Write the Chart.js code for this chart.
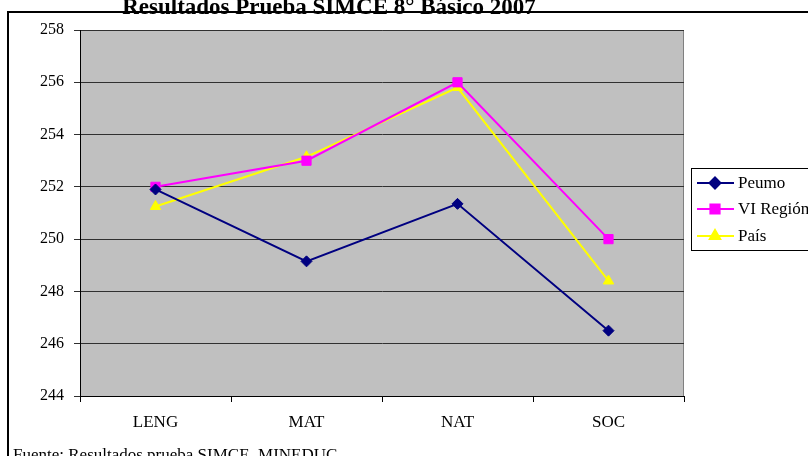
<!DOCTYPE html>
<html>
<head>
<meta charset="utf-8">
<script src="https://cdn.jsdelivr.net/npm/chart.js@4/dist/chart.umd.min.js"></script>
<style>
  html, body { margin: 0; padding: 0; background: #fff; }
  #wrap { position: relative; width: 808px; height: 456px; }
</style>
</head>
<body>
<div id="wrap"><canvas id="c" width="808" height="456"></canvas></div>
<script>
const categories = ['LENG', 'MAT', 'NAT', 'SOC'];
const peumo = [251.9, 249.15, 251.35, 246.5];
const viRegion = [252, 253, 256, 250];
const pais = [251.25, 253.15, 255.8, 248.4];
const seriesNames = ['Peumo', 'VI Región', 'País'];
const titleText = 'Resultados Prueba SIMCE 8° Básico 2007';
const footerText = 'Fuente: Resultados prueba SIMCE, MINEDUC';
const yMin = 244, yMax = 258, yStep = 2;

const FONT = "'Liberation Serif', 'Times New Roman', serif";

const decorPlugin = {
  id: 'decor',
  beforeDraw(chart) {
    const ctx = chart.ctx;
    const a = chart.chartArea;
    ctx.save();
    ctx.fillStyle = '#fff';
    ctx.fillRect(0, 0, chart.width, chart.height);
    // outer frame
    ctx.strokeStyle = '#000';
    ctx.lineWidth = 2;
    ctx.beginPath();
    ctx.moveTo(8, 470);
    ctx.lineTo(8, 12);
    ctx.lineTo(820, 12);
    ctx.stroke();
    // plot background
    ctx.fillStyle = '#C0C0C0';
    ctx.fillRect(a.left, a.top, a.right - a.left, a.bottom - a.top);
    // plot border (gray)
    ctx.strokeStyle = '#808080';
    ctx.lineWidth = 1;
    ctx.strokeRect(a.left + 0.5, a.top + 0.5, a.right - a.left - 1, a.bottom - a.top);
    ctx.restore();
  },
  afterDraw(chart) {
    const ctx = chart.ctx;
    ctx.save();
    // title
    ctx.fillStyle = '#000';
    ctx.font = 'bold 23px ' + FONT;
    ctx.textAlign = 'center';
    ctx.textBaseline = 'alphabetic';
    ctx.fillText(titleText, 329, 14);
    // footer
    ctx.font = '17px ' + FONT;
    ctx.textAlign = 'left';
    ctx.fillText(footerText, 13, 460);
    // legend
    const lx = 691, ly = 168, lw = 130, lh = 82;
    ctx.fillStyle = '#fff';
    ctx.fillRect(lx, ly, lw, lh);
    ctx.strokeStyle = '#000';
    ctx.lineWidth = 1;
    ctx.strokeRect(lx + 0.5, ly + 0.5, lw, lh);
    const rows = [183, 209, 236];
    chart.data.datasets.forEach((ds, i) => {
      const y = rows[i];
      ctx.strokeStyle = ds.borderColor;
      ctx.lineWidth = 2;
      ctx.beginPath();
      ctx.moveTo(697, y);
      ctx.lineTo(734, y);
      ctx.stroke();
      ctx.fillStyle = ds.pointBackgroundColor;
      ctx.strokeStyle = ds.pointBorderColor;
      Chart.helpers.drawPoint(ctx, {pointStyle: ds.pointStyle, radius: ds.pointRadius, rotation: 0, borderWidth: 1}, 715, y);
      ctx.fillStyle = '#000';
      ctx.font = '17px ' + FONT;
      ctx.textAlign = 'left';
      ctx.textBaseline = 'middle';
      ctx.fillText(ds.label, 738, y + 1);
    });
    ctx.restore();
  }
};

function mk(label, data, color, style, r) {
  return {
    label, data,
    borderColor: color, backgroundColor: color,
    pointBackgroundColor: color, pointBorderColor: color,
    pointStyle: style, pointRadius: r, pointBorderWidth: 1,
    borderWidth: 2, tension: 0, fill: false
  };
}

new Chart(document.getElementById('c'), {
  type: 'line',
  data: {
    labels: categories,
    datasets: [
      mk(seriesNames[0], peumo, '#000080', 'rectRot', 5.5),
      mk(seriesNames[1], viRegion, '#FF00FF', 'rect', 6.5),
      mk(seriesNames[2], pais, '#FFFF00', 'triangle', 6)
    ]
  },
  options: {
    responsive: false,
    animation: false,
    devicePixelRatio: 1,
    layout: { padding: { left: 0, top: 30, right: 124, bottom: 0 } },
    plugins: { legend: { display: false }, title: { display: false }, tooltip: { enabled: false } },
    scales: {
      y: {
        min: yMin, max: yMax,
        afterFit(s) { s.width = 80; },
        ticks: { stepSize: yStep, color: '#000', font: { family: FONT, size: 16 }, padding: 10 },
        grid: { color: '#303030', lineWidth: 1, tickLength: 6, drawTicks: true },
        border: { display: true, color: '#000', width: 1 }
      },
      x: {
        offset: true,
        afterFit(s) { s.height = 60; },
        ticks: { color: '#000', font: { family: FONT, size: 17 }, padding: 10 },
        grid: { offset: true, drawOnChartArea: false, color: '#000', tickLength: 6 },
        border: { display: true, color: '#000', width: 1 }
      }
    }
  },
  plugins: [decorPlugin]
});
</script>
</body>
</html>
